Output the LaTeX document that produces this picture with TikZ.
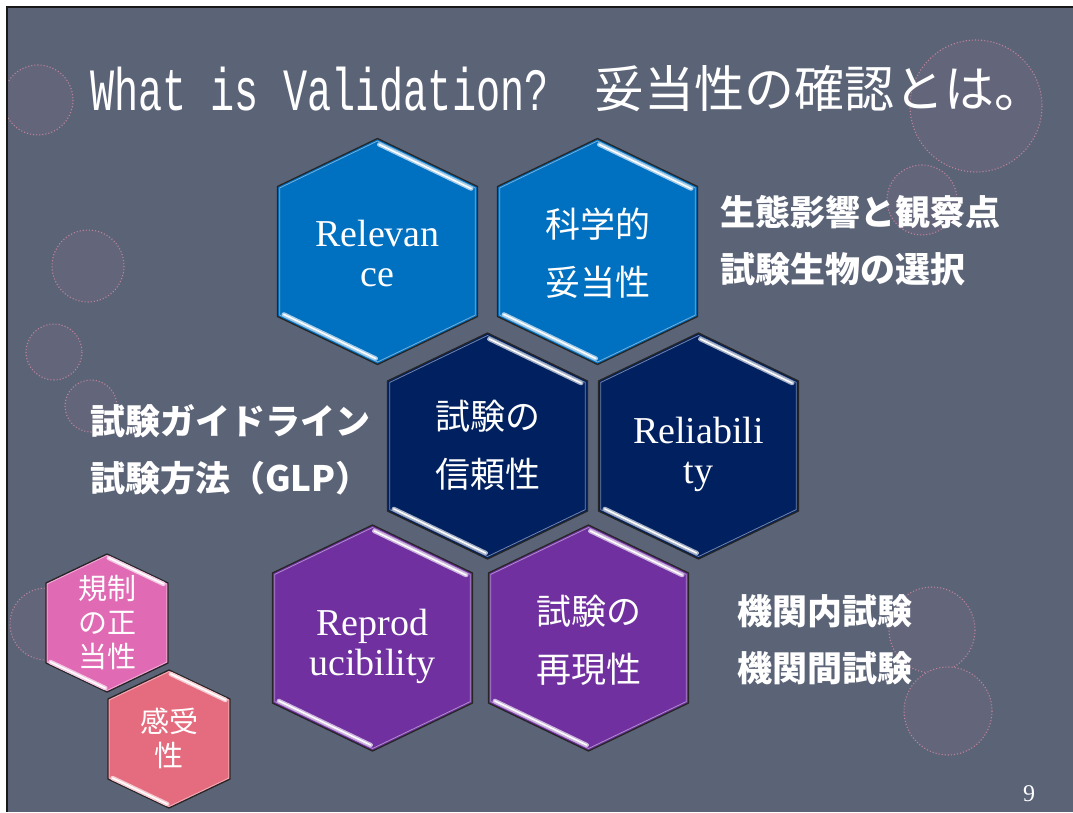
\documentclass[tikz,border=0pt]{standalone}
\usepackage{fontspec}
\setmainfont{Liberation Serif}
\newfontfamily\jp{Noto Sans CJK JP}
\newfontfamily\ttl[FakeStretch=0.67]{Liberation Mono}
\definecolor{slidebg}{RGB}{91,99,119}
\definecolor{hblue}{RGB}{0,112,192}
\definecolor{hnavy}{RGB}{0,32,96}
\definecolor{hpurple}{RGB}{112,48,160}
\definecolor{hpink}{RGB}{224,106,180}
\definecolor{hsalmon}{RGB}{229,108,126}
\definecolor{circfill}{RGB}{99,101,123}
\definecolor{circline}{RGB}{190,132,152}
\newcommand\hexshape[6]{%
  \begin{scope}[shift={(#1,#2)}]
    \path[fill=#6, draw=black!85, line width=1.3]
      (0,-#5) -- (#3,-#4) -- (#3,#4) -- (0,#5) -- (-#3,#4) -- (-#3,-#4) -- cycle;
    \draw[#6!55!white, line width=0.8, scale=0.978]
      (0,-#5) -- (#3,-#4) -- (#3,#4) -- (0,#5) -- (-#3,#4) -- (-#3,-#4) -- cycle;
    \draw[hilite, draw=#6!35!white, line width=4.5, scale=0.955] (0,-#5) -- (#3,-#4);
    \draw[hilite, draw=#6!35!white, line width=4.5, scale=0.955] (-#3,#4) -- (0,#5);
    \draw[hilite, draw=white, line width=1.5, scale=0.955] (0,-#5) -- (#3,-#4);
    \draw[hilite, draw=white, line width=1.5, scale=0.955] (-#3,#4) -- (0,#5);
  \end{scope}}
\newcommand\bighex[3]{\hexshape{#1}{#2}{100}{65}{113}{#3}}
\newcommand\smallhex[3]{\hexshape{#1}{#2}{61}{40}{69}{#3}}
\begin{document}
\begin{tikzpicture}[x=1pt,y=-1pt,
  hilite/.style={line cap=round, shorten <=2, shorten >=2},
  dotcirc/.style={fill=circfill, draw=circline, dotted, line width=1.1},
  hexlatin/.style={text=white, align=center, inner sep=0, text depth=0pt,
    font=\fontsize{38}{40}\selectfont},
  hexjp/.style={text=white, align=center, inner sep=0,
    font=\jp\fontsize{35}{58}\selectfont},
  hexjpsmall/.style={text=white, align=center, inner sep=0,
    font=\jp\fontsize{29}{34}\selectfont},
  sidetext/.style={text=white, align=left, inner sep=0, anchor=west,
    font=\jp\bfseries\fontsize{35}{57}\selectfont}]
\useasboundingbox (0,0) rectangle (1073,812);
\fill[white] (0,0) rectangle (1073,812);
\fill[slidebg] (7,7) rectangle (1073,812);
\draw[black!90, line width=1.5] (7,812) -- (7,7) -- (1073,7);
% background circles
\begin{scope}
  \clip (8,8) rectangle (1073,812);
  \path[dotcirc] (38,100) circle[radius=35];
  \path[dotcirc] (976,106) circle[radius=66];
  \path[dotcirc] (922,200) circle[radius=35];
  \path[dotcirc] (88,266) circle[radius=36];
  \path[dotcirc] (54,352) circle[radius=28];
  \path[dotcirc] (91,406) circle[radius=26];
  \path[dotcirc] (46,624) circle[radius=36];
  \path[dotcirc] (932,630) circle[radius=43];
  \path[dotcirc] (948,711) circle[radius=44];
\end{scope}
% title
\node[anchor=base west, inner sep=0, text=white, font=\ttl\fontsize{60}{60}\selectfont]
  (t1) at (90,110) {What is Validation?};
\node[anchor=base west, inner sep=0, text=white, font=\jp\fontsize{50}{50}\selectfont]
  (t2) at (594,107) {妥当性の確認とは。};
% hexagons
\bighex{377.5}{251.5}{hblue}
\bighex{597.5}{251.5}{hblue}
\bighex{487.5}{446}{hnavy}
\bighex{698.5}{446}{hnavy}
\bighex{372.5}{638}{hpurple}
\bighex{588.5}{638}{hpurple}
\smallhex{107}{623}{hpink}
\smallhex{169}{739}{hsalmon}
\node[hexlatin] (rel) at (377.5,253) {Relevan\\ce};
\node[hexjp] (kag) at (597.5,253) {科学的\\妥当性};
\node[hexjp] (shin) at (487.5,445) {試験の\\信頼性};
\node[hexlatin] (reli) at (698.5,450) {Reliabili\\ty};
\node[hexlatin] (repr) at (372.5,642) {Reprod\\ucibility};
\node[hexjp] (sai) at (588.5,640) {試験の\\再現性};
\node[hexjpsmall] (kis) at (107,623) {規制\\の正\\当性};
\node[hexjpsmall] (kan) at (169,738) {感受\\性};
% side texts
\node[sidetext] (s1) at (720,241) {生態影響と観察点\\試験生物の選択};
\node[sidetext] (s2) at (90,450) {試験ガイドライン\\試験方法（GLP）};
\node[sidetext] (s3) at (737,640) {機関内試験\\機関間試験};
\node[anchor=base, inner sep=0, text=white, font=\fontsize{24}{24}\selectfont]
  (pg) at (1029,801) {9};
\end{tikzpicture}
\end{document}
